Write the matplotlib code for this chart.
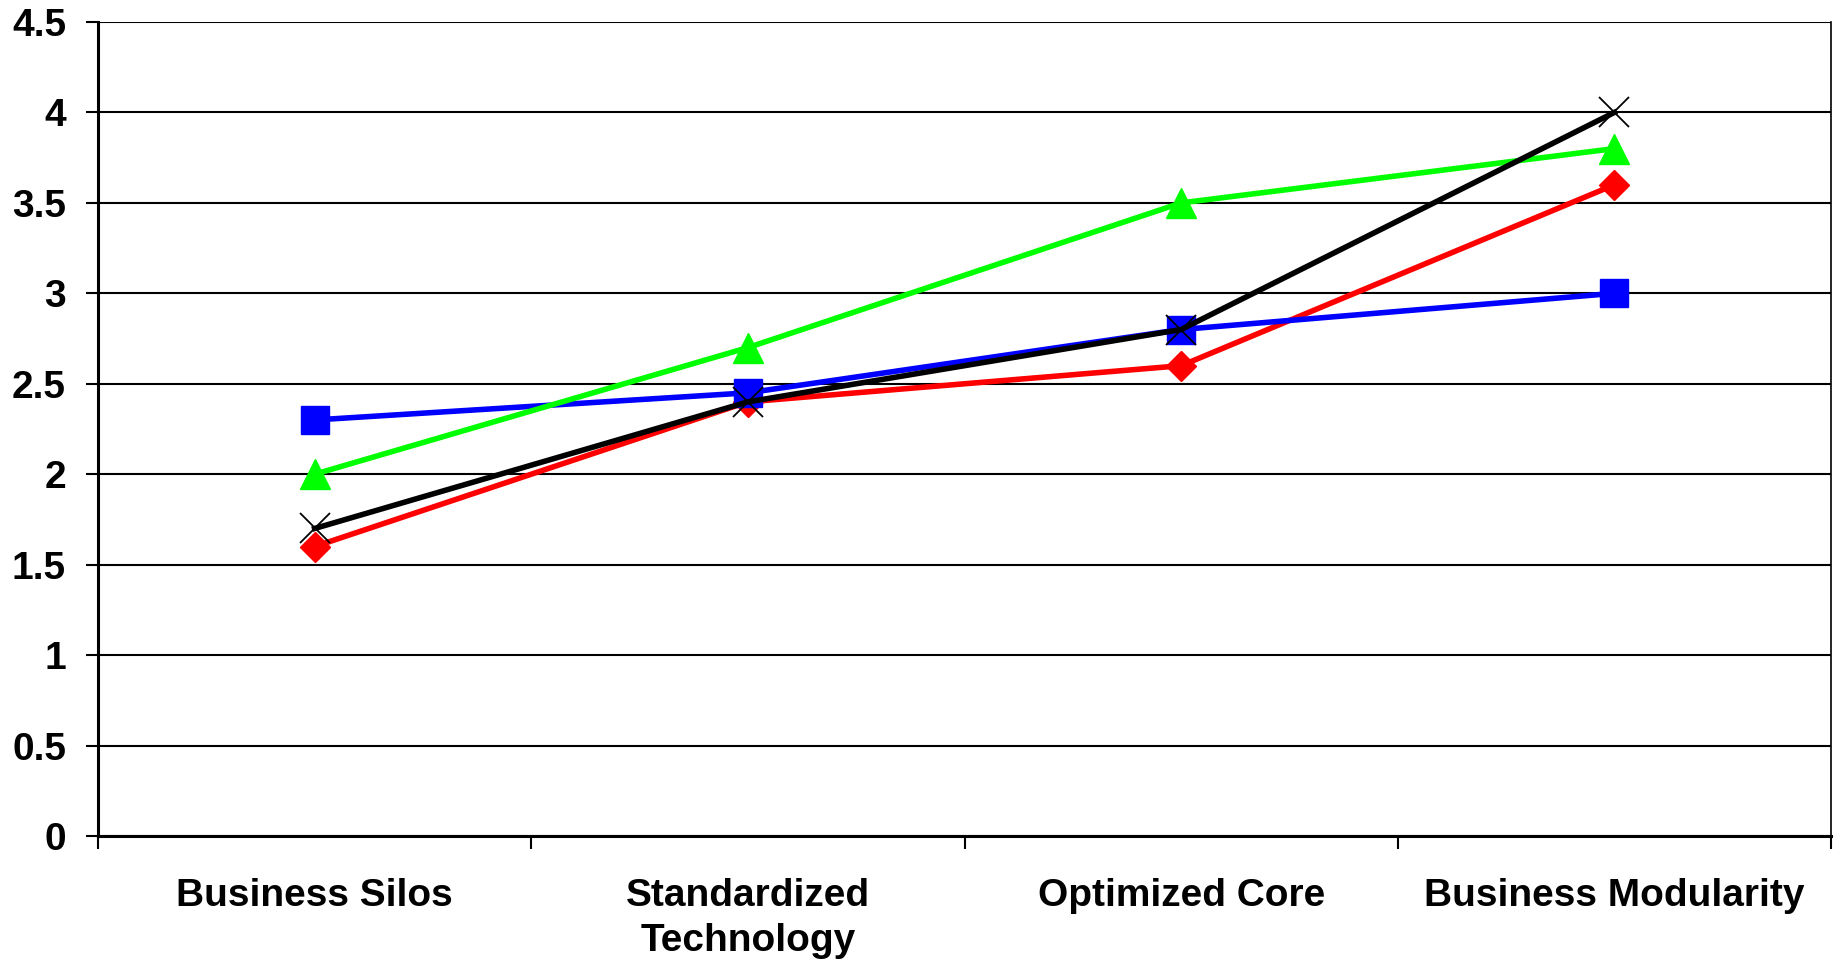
import matplotlib
matplotlib.use("Agg")
import matplotlib.pyplot as plt
import numpy as np

categories = ["Business Silos", "Standardized\nTechnology", "Optimized Core", "Business Modularity"]
red_vals = [1.6, 2.4, 2.6, 3.6]
blue_vals = [2.3, 2.45, 2.8, 3.0]
green_vals = [2.0, 2.7, 3.5, 3.8]
black_vals = [1.7, 2.4, 2.8, 4.0]
yticks = [0, 0.5, 1, 1.5, 2, 2.5, 3, 3.5, 4, 4.5]
ytick_labels = ["0", "0.5", "1", "1.5", "2", "2.5", "3", "3.5", "4", "4.5"]

plt.rcParams['font.family'] = ['Liberation Sans', 'DejaVu Sans']

fig = plt.figure(figsize=(18.39, 9.61), dpi=100)
ax = fig.add_axes([98/1839, 1-836/961, (1831-98)/1839, (836-22)/961])

x = np.arange(1, len(categories) + 1)
ax.set_axisbelow(True)
ax.yaxis.grid(True, color='black', linewidth=1.5)
ax.plot(x, red_vals, color='#FF0000', lw=4, marker='D', ms=15, mec='#FF0000', mfc='#FF0000', zorder=3)
ax.plot(x, blue_vals, color='#0000FF', lw=4, marker='s', ms=20, mec='#0000FF', mfc='#0000FF', zorder=3)
ax.plot(x, green_vals, color='#00FF00', lw=4, marker='^', ms=21, mec='#00FF00', mfc='#00FF00', zorder=3)
ax.plot(x, black_vals, color='black', lw=4, marker='x', ms=21, mew=1.3, zorder=3)

ax.set_xlim(0.5, 4.5)
ax.set_ylim(0, 4.5)
ax.set_yticks(yticks)
ax.set_yticklabels(ytick_labels, fontsize=28, fontweight='bold')
ax.set_xticks(np.arange(0.5, 4.6, 1))
ax.set_xticklabels([])
ax.set_xticks(x, minor=True)
ax.set_xticklabels(categories, minor=True, fontsize=28, fontweight='bold', linespacing=1.33)
ax.tick_params(axis='x', which='minor', length=0, pad=30)
ax.tick_params(axis='x', which='major', length=9, width=1.5, direction='out')
ax.tick_params(axis='y', length=9, width=1.5, direction='out', pad=14)

for side in ['left', 'bottom']:
    ax.spines[side].set_linewidth(2.2)
for side in ['top', 'right']:
    ax.spines[side].set_linewidth(1.2)
ax.spines['top'].set_visible(False)

fig.savefig("out.png", dpi=100)
